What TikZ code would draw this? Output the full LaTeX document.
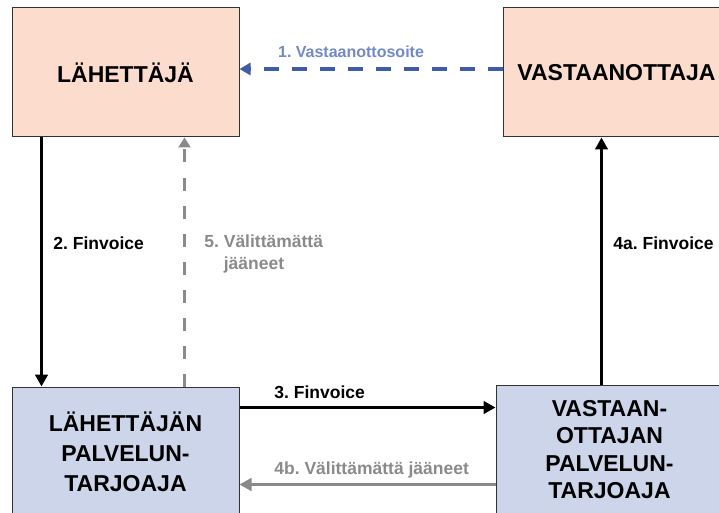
\documentclass[tikz,border=0pt]{standalone}
\usepackage{fontspec}
\setmainfont{Liberation Sans}
\usetikzlibrary{arrows.meta}
\definecolor{peach}{RGB}{252,221,205}
\definecolor{paleblue}{RGB}{205,213,234}
\definecolor{linkblue}{RGB}{63,91,170}
\definecolor{labelblue}{RGB}{114,137,200}
\definecolor{linkgray}{RGB}{138,138,138}
\frenchspacing
\begin{document}
\begin{tikzpicture}[x=1pt,y=-1pt,
  party/.style={draw=black!80,line width=1pt,fill=peach,minimum width=227pt,minimum height=129pt,inner sep=0pt,font=\fontsize{23}{28}\selectfont\bfseries,align=center},
  operator/.style={party,fill=paleblue},
  flow/.style={line width=3.8pt,-{Triangle[length=12pt,width=12.5pt]}},
  lbl/.style={inner sep=0pt,font=\fontsize{17.5}{22}\selectfont\bfseries,align=left}]
\path[use as bounding box,clip] (0,0) rectangle (719,513);
\node[party] (sender) at (125.5,72.5) {LÄHETTÄJÄ};
\node[party] (recv) at (616.5,72.5) {VASTAANOTTAJA};
\node[operator,font=\fontsize{23}{30}\selectfont\bfseries] (senderop) at (125.5,451.5) {LÄHETTÄJÄN\\PALVELUN-\\TARJOAJA};
\node[operator,font=\fontsize{23}{27.5}\selectfont\bfseries] (recvop) at (609.5,449.5) {VASTAAN-\\OTTAJAN\\PALVELUN-\\TARJOAJA};
\draw[flow,linkblue,line width=4.5pt,dash pattern=on 15pt off 13pt,-{Triangle[length=11pt,width=12pt]}] ([yshift=3.5pt]recv.west) -- ([yshift=3.5pt]sender.east)
  node[lbl,labelblue,font=\fontsize{16}{20}\selectfont\bfseries,pos=.576,yshift=17pt] (l1) {1. Vastaanottosoite};
\draw[flow] ([xshift=30pt]sender.south west) -- ([xshift=30pt]senderop.north west)
  node[lbl,pos=.424,anchor=west,xshift=10pt] (l2) {2. Finvoice};
\draw[flow,linkgray,dash pattern=on 13pt off 15pt,-{Triangle[length=10pt,width=12pt]}] ([xshift=173pt]senderop.north west) -- ([xshift=173pt]sender.south west)
  node[lbl,linkgray,pos=.532,anchor=west,xshift=18pt] (l5) {5. Välittämättä\\\hphantom{5.\ }jääneet};
\draw[flow] ([yshift=-21pt]senderop.north east) -- ([yshift=-21pt]senderop.north east -| recvop.west)
  node[lbl,at start,anchor=west,xshift=33pt,yshift=15pt] (l3) {3. Finvoice};
\draw[flow,linkgray] ([yshift=-98pt]senderop.north east -| recvop.west) -- ([yshift=-98pt]senderop.north east)
  node[lbl,linkgray,at end,anchor=west,xshift=33pt,yshift=15pt] (l4b) {4b. Välittämättä jääneet};
\draw[flow] ([xshift=106pt]recvop.north west) -- ([xshift=106pt]recvop.north west |- recv.south)
  node[lbl,pos=.573,anchor=west,xshift=10pt] (l4a) {4a. Finvoice};
\end{tikzpicture}
\end{document}
